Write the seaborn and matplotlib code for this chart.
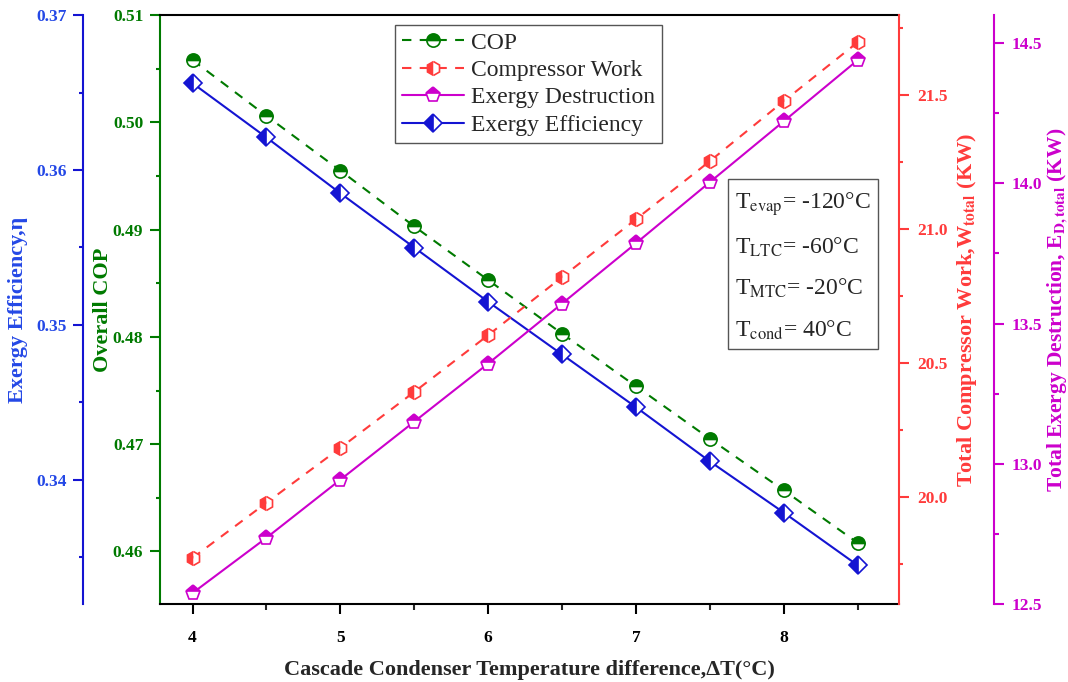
import matplotlib
matplotlib.use("Agg")
import matplotlib.pyplot as plt
from matplotlib.ticker import MultipleLocator, FixedLocator
import seaborn as sns

# Cascade condenser temperature difference (°C)
delta_t = [4.0, 4.5, 5.0, 5.5, 6.0, 6.5, 7.0, 7.5, 8.0, 8.5]
# Overall COP
cop = [0.5058, 0.5006, 0.4955, 0.4903, 0.4853, 0.4803, 0.4754, 0.4705, 0.4657, 0.4608]
# Exergy efficiency
exergy_eff = [0.3656, 0.3621, 0.3585, 0.3550, 0.3515, 0.3481, 0.3447, 0.3412, 0.3379, 0.3345]
# Total compressor work (kW)
comp_work = [19.772, 19.978, 20.183, 20.392, 20.604, 20.821, 21.037, 21.254, 21.478, 21.698]
# Total exergy destruction (kW)
exergy_dest = [12.539, 12.736, 12.943, 13.150, 13.357, 13.571, 13.786, 14.004, 14.221, 14.439]

x_ticks = [4, 5, 6, 7, 8]
cop_ticks = [0.46, 0.47, 0.48, 0.49, 0.50, 0.51]
eff_ticks = [0.34, 0.35, 0.36, 0.37]
work_ticks = [20.0, 20.5, 21.0, 21.5]
dest_ticks = [12.5, 13.0, 13.5, 14.0, 14.5]

series_names = ["COP", "Compressor Work", "Exergy Destruction", "Exergy Efficiency"]
conditions = [r"T$_{\mathrm{evap}}$= -120°C", r"T$_{\mathrm{LTC}}$= -60°C",
              r"T$_{\mathrm{MTC}}$= -20°C", r"T$_{\mathrm{cond}}$= 40°C"]

GREEN = "#007A00"
BLUE = "#1414D2"
BLUE_TXT = "#2448E6"
RED = "#FF3B3B"
MAGENTA = "#CC00CC"

sns.set_theme(style="ticks")
plt.rcParams["font.family"] = ["Liberation Serif", "DejaVu Serif"]
plt.rcParams["mathtext.fontset"] = "stix"
plt.rcParams["axes.linewidth"] = 1.5

fig = plt.figure(figsize=(10.68, 6.82), dpi=100)
ax = fig.add_axes([160 / 1068, 78 / 682, 739 / 1068, 589 / 682])
ax_eff = ax.twinx()
ax_work = ax.twinx()
ax_dest = ax.twinx()

mk = dict(markeredgewidth=1.2, markerfacecoloralt="white")
lw = 1.5

sns.lineplot(x=delta_t, y=cop, ax=ax, color=GREEN, linewidth=lw,
             linestyle=(0, (4.5, 4)), marker="o", fillstyle="top", markersize=9.5,
             markerfacecolor=GREEN, markeredgecolor=GREEN, **mk)
sns.lineplot(x=delta_t, y=exergy_eff, ax=ax_eff, color=BLUE, linewidth=lw,
             marker="D", fillstyle="left", markersize=9.5, markerfacecolor=BLUE,
             markeredgecolor=BLUE, **mk)
sns.lineplot(x=delta_t, y=comp_work, ax=ax_work, color=RED, linewidth=lw,
             linestyle=(0, (4.5, 4)), marker="h", fillstyle="left", markersize=10,
             markerfacecolor=RED, markeredgecolor=RED, **mk)
sns.lineplot(x=delta_t, y=exergy_dest, ax=ax_dest, color=MAGENTA, linewidth=lw,
             marker="p", fillstyle="top", markersize=11, markerfacecolor=MAGENTA,
             markeredgecolor=MAGENTA, **mk)

# axis limits
ax.set_xlim(3.78, 8.78)
ax.set_ylim(0.4551, 0.51)
ax_eff.set_ylim(0.332, 0.37)
ax_work.set_ylim(19.6, 21.8)
ax_dest.set_ylim(12.5, 14.6)

TICK_SIZE = 12.5

# x axis
ax.xaxis.set_major_locator(FixedLocator(x_ticks))
ax.xaxis.set_minor_locator(MultipleLocator(0.5))
ax.tick_params(axis="x", which="major", direction="out", length=7, width=1.5,
               colors="black", labelsize=TICK_SIZE, pad=12)
ax.tick_params(axis="x", which="minor", direction="out", length=4, width=1.5)
ax.tick_params(axis="x", top=False, which="both")
ax.set_xlabel("Cascade Condenser Temperature difference,ΔT(°C)",
              fontsize=16, fontweight="bold", labelpad=10)

# twins share the frame; only keep the spine that each one owns
for a in (ax_eff, ax_work, ax_dest):
    for s in a.spines.values():
        s.set_visible(False)
ax.spines["right"].set_visible(False)
ax.spines["top"].set_color("black")
ax.spines["bottom"].set_color("black")
ax.spines["left"].set_color(GREEN)

# COP axis (left, on frame)
ax.yaxis.set_major_locator(FixedLocator(cop_ticks))
ax.yaxis.set_minor_locator(MultipleLocator(0.005))
ax.tick_params(axis="y", which="major", direction="out", length=7, width=1.5,
               color=GREEN, labelcolor=GREEN, labelsize=TICK_SIZE, pad=5)
ax.tick_params(axis="y", which="minor", direction="out", length=3, width=1.5, color=GREEN)
ax.set_ylabel("Overall COP", color=GREEN, fontsize=16, fontweight="bold")
ax.yaxis.set_label_coords(-0.063, 0.5)

# Exergy efficiency axis (left, offset)
ax_eff.yaxis.set_label_position("left")
ax_eff.yaxis.set_ticks_position("left")
ax_eff.spines["left"].set_visible(True)
ax_eff.spines["left"].set_position(("outward", 55.4))
ax_eff.spines["left"].set_color(BLUE)
ax_eff.yaxis.set_major_locator(FixedLocator(eff_ticks))
ax_eff.yaxis.set_minor_locator(MultipleLocator(0.005))
ax_eff.tick_params(axis="y", which="major", direction="out", length=7, width=1.5,
                   color=BLUE, labelcolor=BLUE_TXT, labelsize=TICK_SIZE, pad=5)
ax_eff.tick_params(axis="y", which="minor", direction="out", length=3, width=1.5, color=BLUE)
ax_eff.set_ylabel("Exergy Efficiency,η", color=BLUE_TXT, fontsize=16, fontweight="bold")
ax_eff.yaxis.set_label_coords(-0.1786, 0.5)

# Compressor work axis (right, on frame)
ax_work.spines["right"].set_visible(True)
ax_work.spines["right"].set_color(RED)
ax_work.yaxis.set_major_locator(FixedLocator(work_ticks))
ax_work.yaxis.set_minor_locator(MultipleLocator(0.25))
ax_work.tick_params(axis="y", which="major", direction="out", length=7, width=1.5,
                    color=RED, labelcolor=RED, labelsize=TICK_SIZE, pad=6)
ax_work.tick_params(axis="y", which="minor", direction="out", length=3, width=1.5, color=RED)
ax_work.set_ylabel(r"Total Compressor Work,W$_{\mathbf{total}}$ (KW)", color=RED,
                   fontsize=16, fontweight="bold")
ax_work.yaxis.set_label_coords(1.0758, 0.5)

# Exergy destruction axis (right, offset)
ax_dest.spines["right"].set_visible(True)
ax_dest.spines["right"].set_position(("outward", 68.4))
ax_dest.spines["right"].set_color(MAGENTA)
ax_dest.yaxis.set_major_locator(FixedLocator(dest_ticks))
ax_dest.yaxis.set_minor_locator(MultipleLocator(0.25))
ax_dest.tick_params(axis="y", which="major", direction="out", length=7, width=1.5,
                    color=MAGENTA, labelcolor=MAGENTA, labelsize=TICK_SIZE, pad=6)
ax_dest.tick_params(axis="y", which="minor", direction="out", length=3.5, width=1.5,
                    color=MAGENTA)
ax_dest.set_ylabel(r"Total Exergy Destruction, E$_{\mathbf{D,total}}$ (KW)", color=MAGENTA,
                   fontsize=15.5, fontweight="bold")
ax_dest.yaxis.set_label_coords(1.1975, 0.5)

for a in (ax, ax_eff, ax_work, ax_dest):
    for lbl in a.get_xticklabels() + a.get_yticklabels():
        lbl.set_fontweight("bold")

# legend collecting one line per axis
handles = [ax.lines[0], ax_work.lines[0], ax_dest.lines[0], ax_eff.lines[0]]
leg = ax_dest.legend(handles, series_names, loc="upper center",
                     bbox_to_anchor=(0.4987, 0.983), bbox_transform=ax.transAxes,
                     prop=dict(family="Liberation Serif", size=17), frameon=True,
                     fancybox=False, edgecolor="#555555", framealpha=1,
                     handlelength=2.6, handletextpad=0.3, labelspacing=0.25,
                     borderpad=0.3, borderaxespad=0)
leg.get_frame().set_linewidth(1.0)

# operating conditions box
ax_dest.text(0.778, 0.703, "\n".join(conditions), transform=ax.transAxes,
             ha="left", va="top", fontsize=17, linespacing=2.0,
             bbox=dict(boxstyle="square,pad=0.3", fc="white", ec="#555555", lw=1.0))

fig.savefig("out.png", dpi=100)
